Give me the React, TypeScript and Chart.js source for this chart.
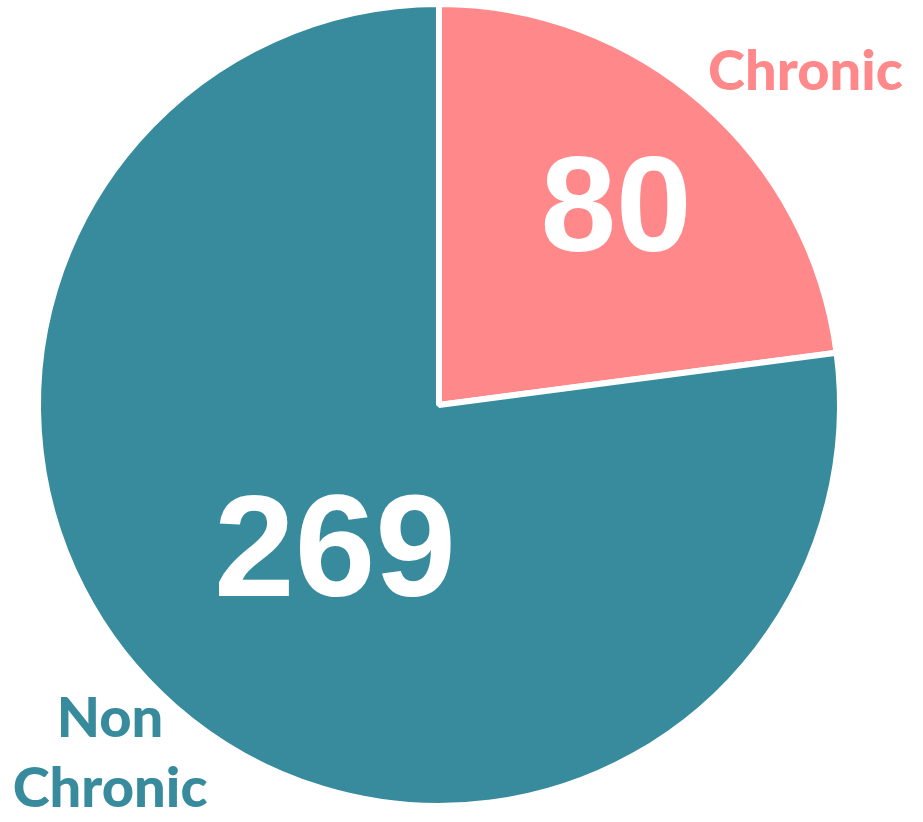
import React, { useEffect, useRef } from "react";
import { Chart, registerables } from "chart.js";

Chart.register(...registerables);

const categories = ["Chronic", "Non Chronic"];
const counts = [80, 269];
const colors = ["#FF898A", "#378B9D"];
const labelLines = [["Chronic"], ["Non", "Chronic"]];

// placement of texts relative to the pie (angle in degrees, distance as fraction of radius)
const valuePlacement = [
  { angle: -48.0, dist: 0.665 },
  { angle: 125.5, dist: 0.45 },
];
const namePlacement = [
  { angle: -42.3, dist: 1.245 },
  { angle: 133.3, dist: 1.205 },
];

const textPlugin = {
  id: "pieTexts",
  afterDatasetsDraw(chart: any) {
    const ctx = chart.ctx;
    const meta = chart.getDatasetMeta(0);
    const arc0 = meta.data[0];
    const cx = arc0.x;
    const cy = arc0.y;
    const R = arc0.outerRadius - 3;
    ctx.save();
    ctx.textAlign = "center";
    ctx.textBaseline = "middle";
    meta.data.forEach((arc: any, i: number) => {
      const p = valuePlacement[i];
      const a = (p.angle * Math.PI) / 180;
      const x = cx + Math.cos(a) * p.dist * R;
      const y = cy + Math.sin(a) * p.dist * R;
      ctx.fillStyle = "#FFFFFF";
      ctx.font = `bold ${i === 0 ? 136 : 145}px "Liberation Sans", Arial, sans-serif`;
      ctx.fillText(String(counts[i]), x, y + 5);

      const n = namePlacement[i];
      const b = (n.angle * Math.PI) / 180;
      const nx = cx + Math.cos(b) * n.dist * R;
      const ny = cy + Math.sin(b) * n.dist * R;
      ctx.fillStyle = colors[i];
      ctx.font = `900 56px Lato, "Open Sans", sans-serif`;
      const lines = labelLines[i];
      const lh = 70;
      lines.forEach((ln, k) => {
        ctx.fillText(ln, nx, ny + (k - (lines.length - 1) / 2) * lh);
      });
    });
    ctx.restore();
  },
};

export default function App() {
  const ref = useRef<HTMLCanvasElement>(null);
  useEffect(() => {
    if (!ref.current) return;
    const chart = new Chart(ref.current, {
      type: "pie",
      data: {
        labels: categories,
        datasets: [
          {
            data: counts,
            backgroundColor: colors,
            borderColor: "#FFFFFF",
            borderWidth: 6,
            hoverOffset: 0,
          },
        ],
      },
      options: {
        responsive: false,
        animation: false,
        maintainAspectRatio: false,
        layout: { padding: { left: 35, right: 80, top: 1, bottom: 13 } },
        plugins: {
          legend: { display: false },
          tooltip: { enabled: false },
        },
      },
      plugins: [textPlugin],
    });
    return () => chart.destroy();
  }, []);
  return (
    <div style={{ position: "fixed", left: 0, top: 0, width: 923, height: 822, background: "#fff" }}>
      <canvas ref={ref} width={923} height={822} style={{ width: 923, height: 822 }} />
    </div>
  );
}
